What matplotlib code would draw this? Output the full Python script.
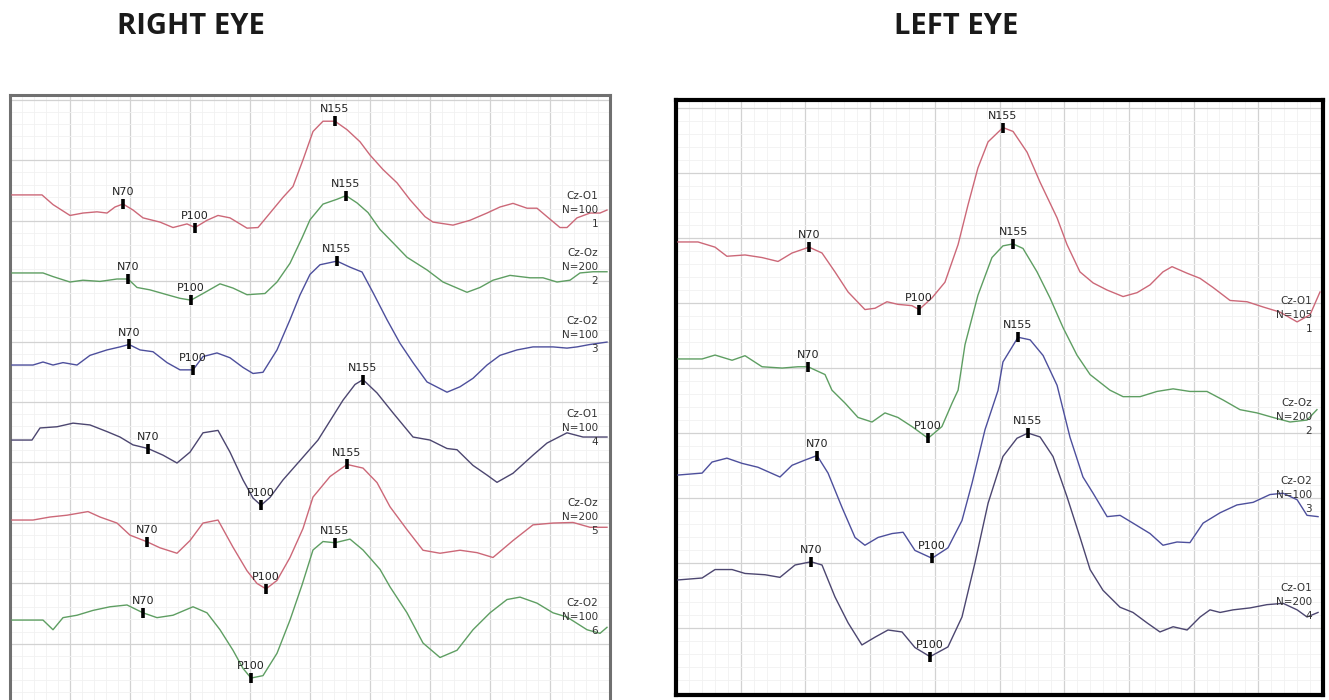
import matplotlib.pyplot as plt
import numpy as np
from matplotlib.ticker import MultipleLocator

# time in ms, amplitude in uV relative to the channel baseline

# RIGHT EYE (left panel), 6 channels
re1_time = [1, 16, 21.5, 30, 36.5, 43.5, 48.5, 52.5, 56.5, 61.5, 66.5, 75, 81.5, 88.5, 92.5, 98.5,
            104, 110, 118.5, 124, 128.5, 136.5, 141.5, 146.5, 151.5, 156.5, 162.5, 168.5, 175, 180,
            186.5, 193.5, 200, 207.5, 211.5, 221.5, 230, 238.5, 245, 251.5, 258.5, 263.5, 268.5,
            275, 278.5, 283.5, 290, 295, 298.5]
re1_amp = [0, 0, -0.8, -1.7, -1.5, -1.4, -1.5, -1.0, -0.75, -1.25, -1.9, -2.25, -2.7, -2.4, -2.7, -2.1,
           -1.7, -1.9, -2.75, -2.7, -1.8, -0.2, 0.7, 2.9, 5.25, 6.1, 6.1, 5.4, 4.4, 3.3,
           2.1, 1.0, -0.4, -1.8, -2.25, -2.5, -2.1, -1.5, -1.0, -0.7, -1.1, -1.1, -1.8,
           -2.7, -2.7, -1.9, -1.5, -1.5, -1.25]

re2_time = [1, 16.5, 21.5, 30, 36.5, 45, 53.5, 59, 63.5, 70, 78.5, 85, 90.5, 96.5, 105, 111.5,
            118.5, 127.5, 133.5, 140, 146, 150, 156.5, 163.5, 168, 173.5, 179, 185, 191.5, 198.5,
            208.5, 216.5, 228.5, 235, 241.5, 250, 260, 266.5, 273.5, 280, 285, 291.5, 298.5]
re2_amp = [0, 0, -0.3, -0.75, -0.6, -0.7, -0.5, -0.5, -1.2, -1.4, -1.8, -2.1, -2.25, -1.7, -0.9, -1.25,
           -1.8, -1.7, -0.75, 0.8, 2.9, 4.4, 5.7, 6.1, 6.4, 5.8, 5.0, 3.6, 2.5, 1.3,
           0.25, -0.75, -1.6, -1.2, -0.6, -0.2, -0.4, -0.4, -0.75, -0.6, 0, 0.1, 0.1]

re3_time = [1, 11.5, 16.5, 21.5, 26.5, 33.5, 40, 48.5, 55, 59.5, 65, 71.5, 78.5, 85, 91.5, 96.5,
            103.5, 110, 116.5, 121.5, 126.5, 133.5, 140, 145, 150, 155, 163.5, 170, 176, 181.5,
            188.5, 195, 201.5, 208.5, 218.5, 225, 231.5, 238.5, 245, 253.5, 261.5, 271.5, 278.5,
            283.5, 290, 298.5]
re3_amp = [0, 0, 0.25, 0, 0.2, 0, 0.8, 1.25, 1.5, 1.7, 1.25, 1.1, 0.2, -0.4, -0.4, 0.7,
           1.0, 0.6, -0.2, -0.7, -0.6, 1.25, 3.75, 5.8, 7.5, 8.3, 8.6, 8.1, 7.7, 6.0,
           3.75, 1.8, 0.2, -1.4, -2.25, -1.8, -1.1, 0, 0.8, 1.25, 1.5, 1.5, 1.4,
           1.5, 1.7, 1.9]

re4_time = [1, 11, 15, 23.5, 31.5, 40, 48.5, 55, 61.5, 69, 76.5, 83.5, 90, 96.5, 104, 110,
            116.5, 121.5, 125.5, 130, 136.5, 145, 154, 166.5, 172.5, 176.5, 183.5, 191.5, 201.5,
            210, 218.5, 223.5, 231.5, 238.5, 243.5, 251.5, 261.5, 268.5, 278.5, 286.5, 298.5]
re4_amp = [0, 0, 1.0, 1.1, 1.4, 1.25, 0.7, 0.25, -0.4, -0.7, -1.25, -1.9, -1.0, 0.6, 0.8, -1.0,
           -3.3, -4.8, -5.4, -4.75, -3.3, -1.7, 0, 3.3, 4.6, 5.0, 3.9, 2.25, 0.25,
           0, -0.7, -0.8, -2.1, -2.9, -3.5, -2.75, -1.25, -0.25, 0.6, 0.25, 0.25]

re5_time = [1, 11.5, 20, 28.5, 39, 45, 53.5, 60, 68.5, 75, 83.5, 90, 96.5, 104, 111.5, 118.5,
            123.5, 128, 133.5, 140, 146.5, 151.5, 160, 168.5, 176.5, 183.5, 190, 198.5, 206.5,
            215, 225, 233.5, 241.5, 251.5, 261.5, 271.5, 281.5, 290, 298.5]
re5_amp = [0, 0, 0.25, 0.4, 0.7, 0.25, -0.25, -1.25, -1.8, -2.3, -2.75, -1.7, -0.25, 0, -2.25, -4.2,
           -5.25, -5.7, -5.0, -3.1, -0.7, 1.9, 3.6, 4.6, 4.3, 3.1, 1.1, -0.8, -2.5,
           -2.75, -2.5, -2.7, -3.1, -1.7, -0.4, -0.25, -0.2, -0.6, -0.6]

re6_time = [1, 16.5, 21.5, 26.5, 33.5, 41.5, 50, 58.5, 66.5, 73.5, 81.5, 91.5, 98.5, 105, 111.5,
            116.5, 120.5, 126.5, 133.5, 140, 146, 151.5, 156.5, 162.5, 170, 176.5, 185, 190,
            198.5, 206.5, 215, 223.5, 231.5, 240, 248.5, 255, 263.5, 271.5, 278.5, 288.5, 295, 298.5]
re6_amp = [0, 0, -0.8, 0.2, 0.4, 0.8, 1.1, 1.25, 0.6, 0.2, 0.4, 1.1, 0.6, -0.8, -2.5,
           -4.0, -4.8, -4.6, -2.75, 0, 2.9, 5.8, 6.5, 6.4, 6.7, 5.8, 4.2, 2.75,
           0.6, -1.9, -3.1, -2.5, -0.8, 0.6, 1.7, 1.9, 1.4, 0.6, 0.25, -0.8, -1.1, -0.6]

# LEFT EYE (right panel), 4 channels
le1_time = [0.9, 10.2, 18.1, 23.6, 32.0, 39.9, 47.3, 53.8, 61.7, 67.7, 73.7, 79.8, 87.6, 92.3,
            97.8, 102.9, 109.4, 112.7, 118.7, 124.7, 130.8, 135.4, 140.0, 144.7, 151.6, 156.3,
            162.8, 168.8, 176.7, 181.3, 187.3, 193.4, 199.9, 207.3, 213.8, 219.8, 225.8, 230.0,
            236.9, 243.0, 249.0, 256.9, 264.8, 272.2, 280.1, 288.0, 294.0, 298.6]
le1_amp = [0, 0, -0.4, -1.1, -1.0, -1.2, -1.5, -0.85, -0.4, -0.85, -2.3, -3.85, -5.2, -5.1,
           -4.6, -4.8, -4.9, -5.2, -4.3, -3.1, -0.2, 2.85, 5.7, 7.7, 8.8, 8.5,
           6.9, 4.6, 1.85, -0.2, -2.3, -3.15, -3.7, -4.2, -3.9, -3.3, -2.3, -1.9,
           -2.4, -2.8, -3.5, -4.5, -4.6, -5.0, -5.4, -6.15, -5.6, -3.85]

le2_time = [0.9, 12.1, 18.1, 26.0, 32.0, 39.9, 49.2, 56.6, 61.2, 69.1, 72.3, 78.4, 84.4, 90.9,
            96.9, 102.9, 109.4, 116.9, 123.3, 128.0, 130.8, 134.0, 140.0, 146.5, 151.6, 156.3,
            160.9, 167.4, 173.4, 179.5, 185.9, 192.0, 201.2, 207.3, 215.2, 223.0, 230.5, 238.3,
            246.2, 253.6, 261.5, 269.4, 276.8, 284.7, 292.6, 297.2]
le2_amp = [0, 0, 0.3, -0.1, 0.25, -0.6, -0.7, -0.6, -0.6, -1.2, -2.4, -3.4, -4.5, -4.85,
           -4.15, -4.5, -5.2, -6.1, -5.2, -3.4, -2.4, 1.1, 4.9, 7.8, 8.7, 8.85,
           8.5, 6.7, 4.7, 2.4, 0.3, -1.2, -2.4, -2.9, -2.9, -2.5, -2.3, -2.5,
           -2.5, -3.15, -3.9, -4.15, -4.5, -4.85, -4.7, -3.9]

le3_time = [0.9, 12.1, 16.7, 23.6, 30.6, 38.0, 48.2, 53.8, 59.8, 65.4, 70.5, 77.0, 83.0, 87.6,
            93.7, 100.2, 105.3, 110.8, 118.7, 126.1, 132.6, 137.3, 143.3, 149.3, 151.6, 158.6,
            164.2, 170.2, 176.7, 182.7, 188.7, 193.4, 199.9, 205.9, 211.9, 219.8, 225.8, 232.3,
            238.3, 244.4, 252.3, 260.1, 267.6, 275.4, 281.5, 288.0, 292.6, 297.7]
le3_amp = [0, 0.15, 1.0, 1.3, 0.9, 0.6, -0.15, 0.75, 1.15, 1.5, 0.15, -2.5, -4.8, -5.4,
           -4.8, -4.5, -4.4, -5.8, -6.4, -5.6, -3.5, -0.6, 3.5, 6.5, 8.7, 10.6,
           10.4, 9.2, 6.9, 2.9, -0.15, -1.4, -3.2, -3.1, -3.7, -4.5, -5.4, -5.15,
           -5.2, -3.7, -2.9, -2.3, -2.1, -1.5, -1.4, -1.9, -3.1, -3.2]

le4_time = [0.9, 12.1, 18.1, 26.0, 32.0, 41.3, 48.2, 55.2, 62.6, 67.7, 73.7, 79.8, 86.2, 92.3,
            98.3, 104.8, 110.8, 117.8, 126.1, 132.6, 138.6, 144.7, 151.6, 158.1, 163.2, 168.8,
            174.8, 181.3, 187.3, 192.0, 198.0, 205.9, 211.9, 218.4, 224.4, 230.5, 237.0, 243.0,
            247.6, 252.3, 258.3, 266.2, 274.0, 281.5, 288.0, 292.6, 297.7]
le4_amp = [0, 0.15, 0.8, 0.8, 0.5, 0.4, 0.2, 1.15, 1.4, 1.15, -1.3, -3.3, -5.0, -4.4,
           -3.85, -4.0, -5.2, -5.9, -5.15, -2.85, 1.3, 5.9, 9.5, 10.9, 11.3, 11.0,
           9.5, 6.4, 3.3, 0.8, -0.8, -2.1, -2.5, -3.3, -4.0, -3.6, -3.85, -2.85,
           -2.3, -2.5, -2.3, -2.15, -1.9, -1.8, -2.3, -2.85, -2.5]

peak_names = ["N70", "P100", "N155"]
re_peak_times = [(56.5, 92.5, 162.5), (59, 90.5, 168), (59.5, 91.5, 163.5),
                 (69, 125.5, 176.5), (68.5, 128, 168.5), (66.5, 120.5, 162.5)]
le_peak_times = [(61.7, 112.7, 151.6), (61.2, 116.9, 156.3),
                 (65.4, 118.7, 158.6), (62.6, 117.8, 163.2)]

re_channels = ["Cz-O1\nN=100\n1", "Cz-Oz\nN=200\n2", "Cz-O2\nN=100\n3",
               "Cz-O1\nN=100\n4", "Cz-Oz\nN=200\n5", "Cz-O2\nN=100\n6"]
le_channels = ["Cz-O1\nN=105\n1", "Cz-Oz\nN=200\n2", "Cz-O2\nN=100\n3", "Cz-O1\nN=200\n4"]

RED = "#cc6878"
GREEN = "#5e9e62"
BLUE = "#4d4f9c"
DARK = "#4c4670"

# layout: baseline of each channel and label centre, in uV on the panel axis
re_offsets = [-7.86, -14.32, -21.94, -28.15, -34.77, -43.05]
re_label_y = [-9.11, -13.82, -19.45, -27.15, -34.52, -42.80]
re_colors = [RED, GREEN, BLUE, DARK, RED, GREEN]
le_offsets = [-10.28, -19.28, -28.21, -36.28]
le_label_y = [-15.9, -23.75, -29.75, -37.98]
le_colors = [RED, GREEN, BLUE, DARK]

W, H = 1329, 700


def setup_panel(fig, rect_px, ylim, spine_color, spine_width):
    x0, y0, x1, y1 = rect_px
    ax = fig.add_axes([x0 / W, 1 - y1 / H, (x1 - x0) / W, (y1 - y0) / H])
    ax.set_xlim(0, 300)
    ax.set_ylim(*ylim)
    ax.xaxis.set_major_locator(MultipleLocator(30))
    ax.xaxis.set_minor_locator(MultipleLocator(6))
    ax.yaxis.set_major_locator(MultipleLocator(5))
    ax.yaxis.set_minor_locator(MultipleLocator(1))
    ax.grid(which="major", color="#d2d2d2", linewidth=0.9)
    ax.grid(which="minor", color="#f1f1f1", linewidth=0.6)
    ax.set_axisbelow(True)
    ax.tick_params(which="both", length=0, labelbottom=False, labelleft=False)
    for spine in ax.spines.values():
        spine.set_color(spine_color)
        spine.set_linewidth(spine_width)
    return ax


def draw_channel(ax, time, amp, offset, color, peak_times):
    amp = np.array(amp)
    ax.plot(time, offset + amp, color=color, linewidth=1.0, zorder=3)
    for name, pt in zip(peak_names, peak_times):
        y = offset + np.interp(pt, time, amp)
        ax.plot(pt, y, marker="|", markersize=7, markeredgewidth=2.6, color="black", zorder=4)
        txt = ax.annotate(name, (pt, y), xytext=(0, 5), textcoords="offset points",
                          ha="center", va="bottom", fontsize=8, color="#222222", zorder=4)
        txt.set_clip_on(True)


def draw_channel_label(ax, text, x, y):
    ax.text(x, y, text, ha="right", va="center", multialignment="right",
            fontsize=7.5, color="#333333", linespacing=1.55, zorder=5)


def main():
    fig = plt.figure(figsize=(W / 100, H / 100), dpi=100)
    fig.patch.set_facecolor("white")

    ax_r = setup_panel(fig, (10, 95, 610, 705), (-50.08, 0.41), "#707070", 2.2)
    ax_r.spines["bottom"].set_visible(False)
    ax_l = setup_panel(fig, (676, 100, 1323, 695), (-45.13, 0.64), "black", 3.0)

    re_traces = [(re1_time, re1_amp), (re2_time, re2_amp), (re3_time, re3_amp),
                 (re4_time, re4_amp), (re5_time, re5_amp), (re6_time, re6_amp)]
    for i, (t, a) in enumerate(re_traces):
        draw_channel(ax_r, t, a, re_offsets[i], re_colors[i], re_peak_times[i])
        draw_channel_label(ax_r, re_channels[i], 294, re_label_y[i])

    le_traces = [(le1_time, le1_amp), (le2_time, le2_amp), (le3_time, le3_amp), (le4_time, le4_amp)]
    for i, (t, a) in enumerate(le_traces):
        draw_channel(ax_l, t, a, le_offsets[i], le_colors[i], le_peak_times[i])
        draw_channel_label(ax_l, le_channels[i], 295, le_label_y[i])

    title_style = dict(ha="center", va="baseline", fontsize=21, fontweight="bold",
                       family=["Open Sans", "DejaVu Sans"], color="#1a1a1a")
    fig.text(191 / W, 1 - 34 / H, "RIGHT EYE", **title_style)
    fig.text(956 / W, 1 - 34 / H, "LEFT EYE", **title_style)

    fig.savefig("out.png", dpi=100, facecolor="white")


if __name__ == "__main__":
    main()
